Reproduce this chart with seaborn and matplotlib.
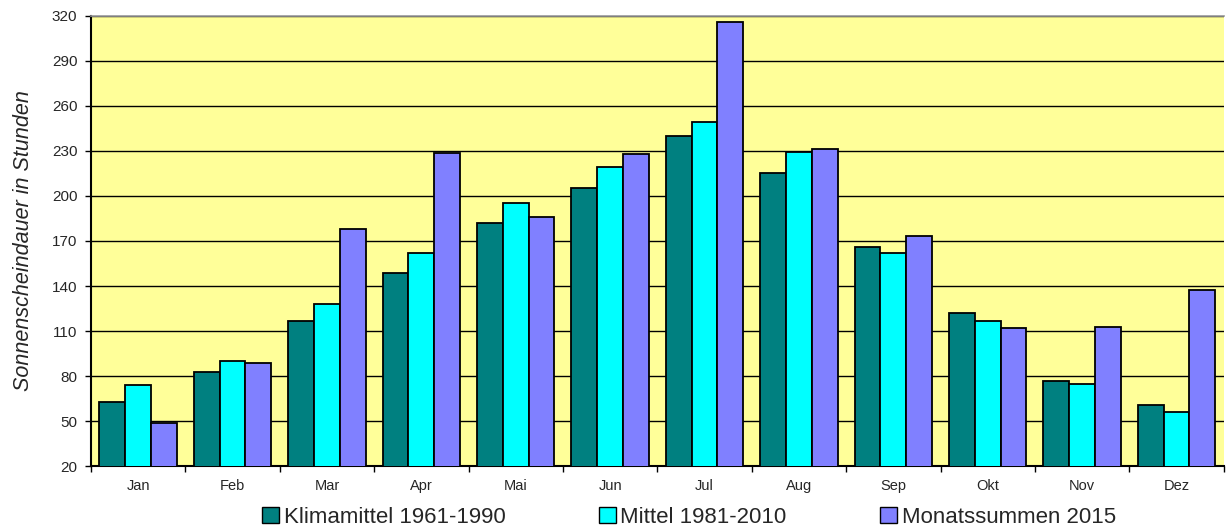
import pandas as pd
import numpy as np
import matplotlib
matplotlib.use("Agg")
import matplotlib.pyplot as plt
import seaborn as sns
from matplotlib.patches import Patch

# === Data ===
months = ["Jan", "Feb", "Mar", "Apr", "Mai", "Jun", "Jul", "Aug", "Sep", "Okt", "Nov", "Dez"]
klima_1961_1990 = [62.5, 83, 116.5, 148.5, 182, 205.5, 240, 215, 166, 122, 77, 60.5]
mittel_1981_2010 = [74, 90, 128, 162, 195, 219, 249.5, 229, 162, 117, 75, 56]
summen_2015 = [49, 88.5, 178, 228.5, 186, 228, 316, 231.5, 173.5, 112, 113, 137.5]

series_names = ["Klimamittel 1961-1990", "Mittel 1981-2010", "Monatssummen 2015"]
colors = ["#008080", "#00FFFF", "#8080FF"]


def main():
    df = pd.DataFrame({
        "Monat": months * 3,
        "Stunden": klima_1961_1990 + mittel_1981_2010 + summen_2015,
        "Reihe": [series_names[0]] * 12 + [series_names[1]] * 12 + [series_names[2]] * 12,
    })

    sns.set_style("white")
    plt.rcParams["font.family"] = ["Liberation Sans", "DejaVu Sans"]

    fig = plt.figure(figsize=(12.26, 5.32), dpi=100)
    ax = fig.add_axes([0.0742, 0.124, 0.924, 0.846])
    ax.set_facecolor("#FFFF99")

    sns.barplot(data=df, x="Monat", y="Stunden", hue="Reihe", palette=colors,
                width=0.82, edgecolor="black", linewidth=1.3, saturation=1,
                legend=False, ax=ax, zorder=3)

    ax.set_ylim(20, 320)
    ax.set_yticks(np.arange(20, 321, 30))
    ax.set_xlim(-0.5, 11.5)
    ax.yaxis.grid(True, color="black", linewidth=1.0, zorder=0)
    ax.set_axisbelow(True)

    # group boundary ticks, labels centered
    ax.set_xticks(np.arange(-0.5, 12, 1), minor=True)
    ax.tick_params(axis="x", which="major", length=0, labelsize=10.5, pad=9)
    ax.tick_params(axis="x", which="minor", length=4, width=1, direction="out", color="black")
    ax.tick_params(axis="y", length=4.3, width=1, direction="out", color="black", labelsize=11, pad=5.5)
    ax.xaxis.set_ticks_position("bottom")
    ax.yaxis.set_ticks_position("left")

    ax.set_xlabel("")
    ax.set_ylabel("Sonnenscheindauer in Stunden", fontsize=15.5, style="italic", labelpad=13)

    for side in ["left", "bottom"]:
        ax.spines[side].set_color("black")
        ax.spines[side].set_linewidth(1.5)
    ax.spines["top"].set_color("#999999")
    ax.spines["top"].set_linewidth(1.2)
    ax.spines["right"].set_visible(False)

    handles = [Patch(facecolor=c, edgecolor="black", linewidth=1.0) for c in colors]
    fig.legend(handles, series_names, loc="center", bbox_to_anchor=(0.562, 0.028), ncol=3,
               frameon=False, fontsize=16, handlelength=0.75, handleheight=0.75,
               handletextpad=0.22, columnspacing=4.2, borderpad=0, borderaxespad=0)

    fig.savefig("out.png", dpi=100)


if __name__ == "__main__":
    main()
